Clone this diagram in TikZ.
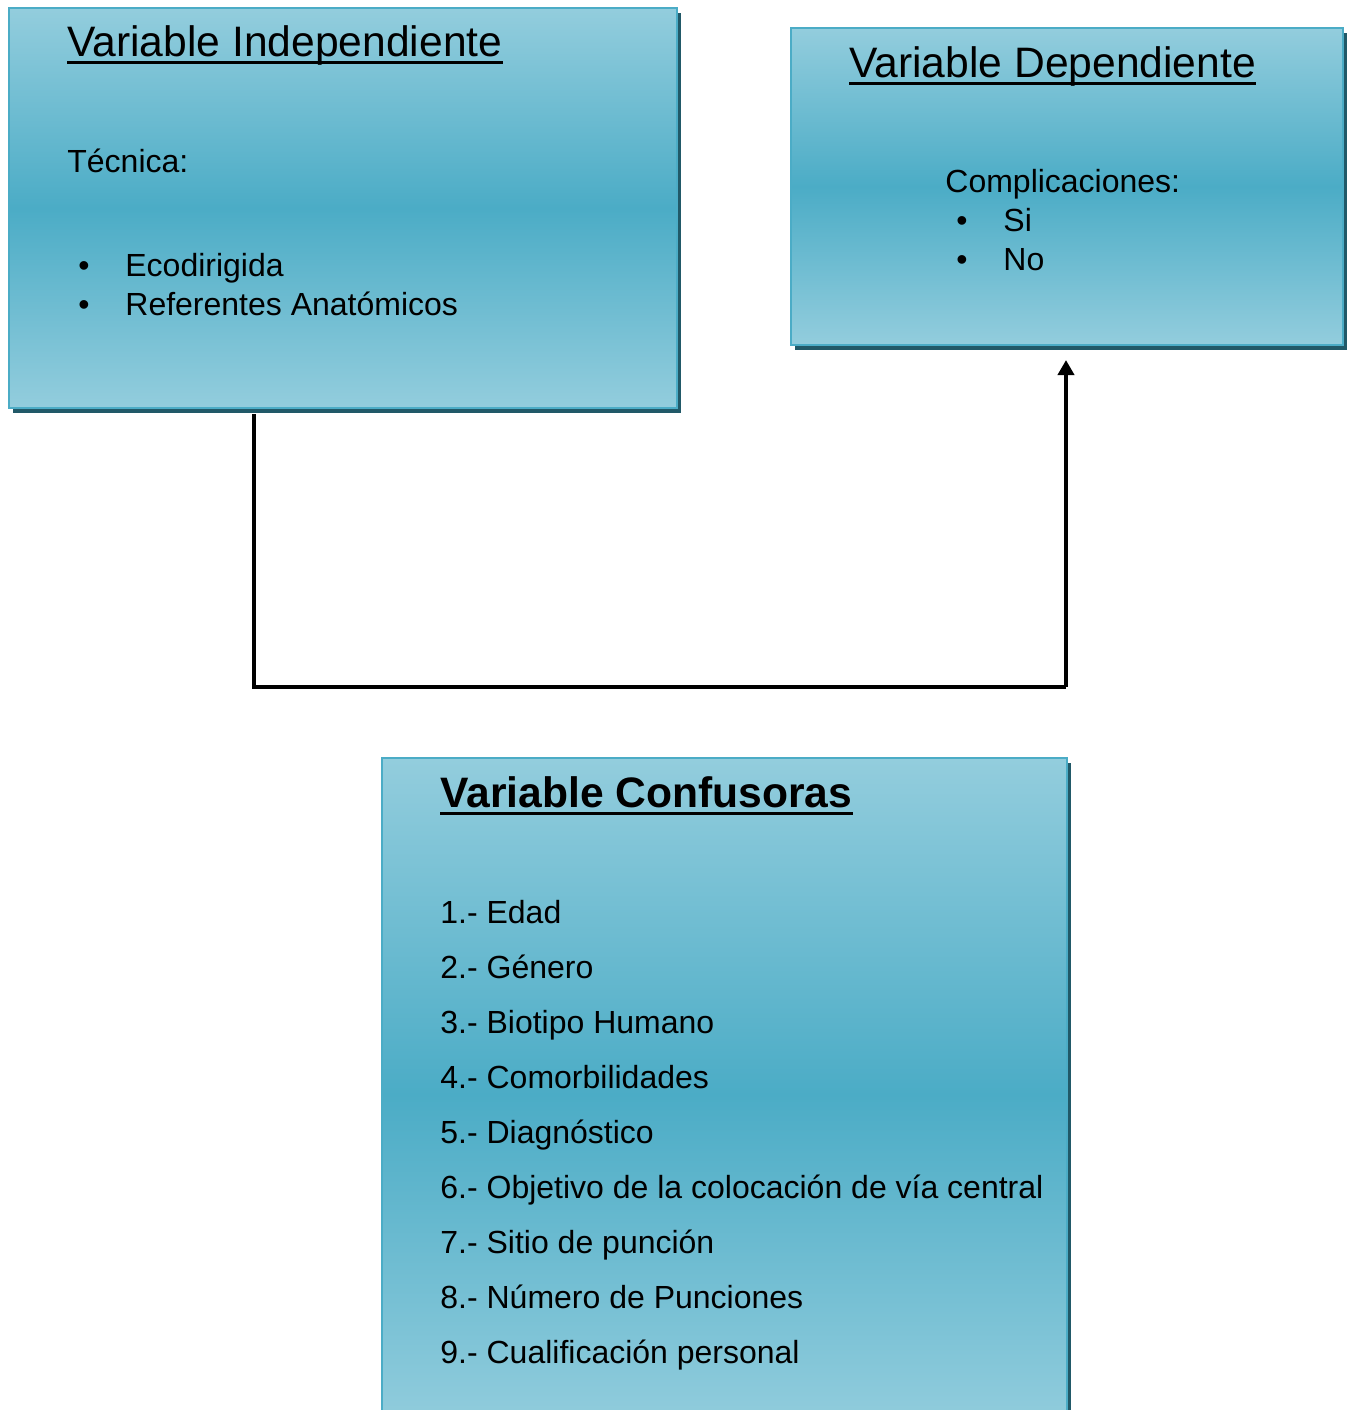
\documentclass[tikz,border=0pt]{standalone}
\usepackage{fontspec}
\setmainfont{Liberation Sans}
\usetikzlibrary{arrows.meta,shadows}
\definecolor{VLight}{RGB}{147,205,221}
\definecolor{VMid}{RGB}{75,172,198}
\definecolor{VShadow}{RGB}{33,89,104}
\tikzset{
  varbox/.style={draw=VMid, line width=1pt, anchor=north west, inner sep=0pt,
    top color=VLight, bottom color=VLight, middle color=VMid,
    drop shadow={shadow xshift=2pt, shadow yshift=-2.5pt, fill=VShadow, opacity=1}},
  boxtitle/.style={anchor=base west, inner sep=0pt, font=\fontsize{21.3}{25}\selectfont},
  boxtext/.style={anchor=base west, inner sep=0pt, font=\fontsize{16}{19}\selectfont},
  uline/.style={line width=1.5pt},
  link/.style={line width=2pt}
}

\begin{document}
\begin{tikzpicture}[x=0.5pt,y=-0.5pt]
\useasboundingbox (0,0) rectangle (1347,1410);

\node[varbox, minimum width=334pt, minimum height=200pt] (ind) at (8,7) {};
\node[varbox, minimum width=276pt, minimum height=158.5pt] (dep) at (790,27) {};
\node[varbox, minimum width=342.5pt, minimum height=336.5pt] (conf) at (381,757) {};

\coordinate (elbowL) at (254,687);
\coordinate (elbowR) at (1066,687);
\draw[link, shorten <=2.5pt] (ind.south -| elbowL) -- (elbowL) -- (elbowR);
\draw[link, -{Triangle[width=8pt,length=7.5pt]}, shorten >=7pt] (elbowR) -- (dep.south -| elbowR);

% independiente
\node[boxtitle] (indtitle) at (67,56) {Variable Independiente};
\draw[uline] ([yshift=-3pt]indtitle.base west) -- ([yshift=-3pt]indtitle.base east);
\node[boxtext] (tecnica) at (67,172) {Técnica:};
\foreach \txt [count=\i] in {Ecodirigida, Referentes Anatómicos} {
  \node[boxtext] (indb\i) at (78,237+39*\i) {\textbullet};
  \node[boxtext] (indt\i) at (125,237+39*\i) {\txt};
}

% dependiente
\node[boxtitle] (deptitle) at (849,77) {Variable Dependiente};
\draw[uline] ([yshift=-3pt]deptitle.base west) -- ([yshift=-3pt]deptitle.base east);
\node[boxtext] (compl) at (945,192) {Complicaciones:};
\foreach \txt [count=\i] in {Si, No} {
  \node[boxtext] (depb\i) at (956,192+39*\i) {\textbullet};
  \node[boxtext] (dept\i) at (1003,192+39*\i) {\txt};
}

% confusoras
\node[boxtitle, font=\fontsize{21.3}{25}\selectfont\bfseries] (conftitle) at (440,807) {Variable Confusoras};
\draw[uline] ([yshift=-3pt]conftitle.base west) -- ([yshift=-3pt]conftitle.base east);
\foreach \txt [count=\i] in {Edad, Género, Biotipo Humano, Comorbilidades, Diagnóstico,
    Objetivo de la colocación de vía central, Sitio de punción,
    Número de Punciones, Cualificación personal} {
  \node[boxtext] (conf\i) at (440,868+55.1*\i) {\i.- \txt};
}

\end{tikzpicture}
\end{document}
